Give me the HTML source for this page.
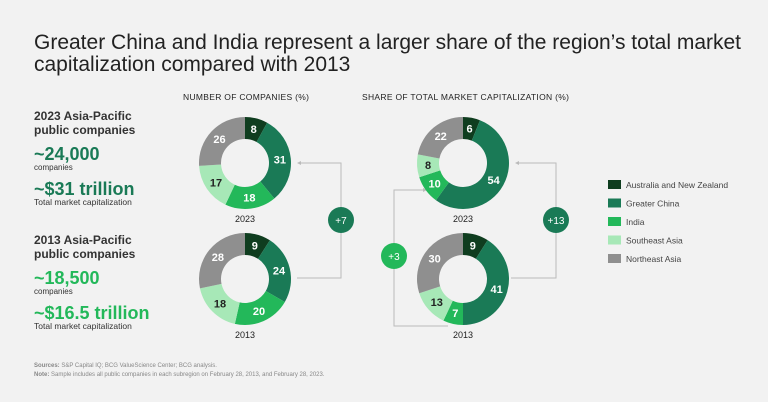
<!DOCTYPE html>
<html><head><meta charset="utf-8"><style>
body{margin:0;background:#f2f2f2;font-family:"Liberation Sans",sans-serif;}
#wrap{position:relative;width:768px;height:402px;overflow:hidden;background:#f2f2f2;}
svg text{font-family:"Liberation Sans",sans-serif;}
</style></head><body>
<div id="wrap">
<svg id="chart" width="768" height="402">
<text x="34" y="49" font-size="21" fill="#222">Greater China and India represent a larger share of the region’s total market</text>
<text x="34" y="71" font-size="21" fill="#222">capitalization compared with 2013</text>
<text x="183" y="100" font-size="8.5" fill="#222" letter-spacing="0.3">NUMBER OF COMPANIES (%)</text>
<text x="362" y="100" font-size="8.5" fill="#222" letter-spacing="0.3">SHARE OF TOTAL MARKET CAPITALIZATION (%)</text>

<g>
<text x="34" y="120" font-size="12" font-weight="bold" fill="#333">2023 Asia-Pacific</text>
<text x="34" y="134" font-size="12" font-weight="bold" fill="#333">public companies</text>
<text x="34" y="160" font-size="18" font-weight="bold" fill="#1a7a56">~24,000</text>
<text x="34" y="170" font-size="8" fill="#333">companies</text>
<text x="34" y="195" font-size="18" font-weight="bold" fill="#1a7a56">~$31 trillion</text>
<text x="34" y="205" font-size="8.5" fill="#333">Total market capitalization</text>
</g>
<g>
<text x="34" y="244" font-size="12" font-weight="bold" fill="#333">2013 Asia-Pacific</text>
<text x="34" y="258" font-size="12" font-weight="bold" fill="#333">public companies</text>
<text x="34" y="284" font-size="18" font-weight="bold" fill="#23b85a">~18,500</text>
<text x="34" y="294" font-size="8" fill="#333">companies</text>
<text x="34" y="319" font-size="18" font-weight="bold" fill="#23b85a">~$16.5 trillion</text>
<text x="34" y="329" font-size="8.5" fill="#333">Total market capitalization</text>
</g>

<g fill="none" stroke="#bbb" stroke-width="1">
<polyline points="300,163 341,163 341,278 297,278"/>
<polyline points="424,190 394,190 394,326 448,326"/>
<polyline points="519,163 556,163 556,278 511,278"/>
</g>
<polygon points="297,163 301,161 301,165" fill="#bbb"/>
<polygon points="427,190 423,188 423,192" fill="#bbb"/>
<polygon points="515,163 519,161 519,165" fill="#bbb"/>

<g><circle cx="341" cy="220" r="13" fill="#1a7a56"/><text x="341" y="224" font-size="10" fill="#fff" text-anchor="middle">+7</text></g>
<g><circle cx="394" cy="256" r="13" fill="#23b85a"/><text x="394" y="260" font-size="10" fill="#fff" text-anchor="middle">+3</text></g>
<g><circle cx="556" cy="220" r="13" fill="#1a7a56"/><text x="556" y="224" font-size="10" fill="#fff" text-anchor="middle">+13</text></g>

<g id="donuts"></g>
<g id="legend"></g>

<text x="34" y="367" font-size="6" fill="#888"><tspan font-weight="bold">Sources:</tspan> S&amp;P Capital IQ; BCG ValueScience Center; BCG analysis.</text>
<text x="34" y="376" font-size="6" fill="#888"><tspan font-weight="bold">Note:</tspan> Sample includes all public companies in each subregion on February 28, 2013, and February 28, 2023.</text>
</svg>
</div>
<script>
const regions = ["Australia and New Zealand","Greater China","India","Southeast Asia","Northeast Asia"];
const colors = ["#0f3d1f","#1a7a56","#23b85a","#a7e8b7","#8f8f8f"];
const textColors = ["#fff","#fff","#fff","#222","#fff"];
const companies2023 = [8,31,18,17,26];
const companies2013 = [9,24,20,18,28];
const marketCap2023 = [6,54,10,8,22];
const marketCap2013 = [9,41,7,13,30];
const yearLabels = ["2023","2013"];

const NS="http://www.w3.org/2000/svg";
const donutG=document.getElementById('donuts');
const R=46, r=24;
function pt(cx,cy,rad,a){return [cx+rad*Math.sin(a), cy-rad*Math.cos(a)];}
function donut(cx,cy,vals,name,year){
  const g=document.createElementNS(NS,'g');
  
  
  const tot=vals.reduce((a,b)=>a+b,0);
  let a0=0;
  vals.forEach((v,i)=>{
    const a1=a0+v/tot*2*Math.PI;
    const [x1,y1]=pt(cx,cy,R,a0),[x2,y2]=pt(cx,cy,R,a1),[x3,y3]=pt(cx,cy,r,a1),[x4,y4]=pt(cx,cy,r,a0);
    const lg=(a1-a0)>Math.PI?1:0;
    const p=document.createElementNS(NS,'path');
    p.setAttribute('d',`M${x1},${y1}A${R},${R} 0 ${lg} 1 ${x2},${y2}L${x3},${y3}A${r},${r} 0 ${lg} 0 ${x4},${y4}Z`);
    p.setAttribute('fill',colors[i]);
    
    
    g.appendChild(p);
    const [lx,ly]=pt(cx,cy,(R+r)/2,(a0+a1)/2);
    const t=document.createElementNS(NS,'text');
    t.setAttribute('x',lx);t.setAttribute('y',ly+4);
    t.setAttribute('text-anchor','middle');t.setAttribute('font-size','11');t.setAttribute('font-weight','bold');
    t.setAttribute('fill',textColors[i]);
    t.textContent=v;
    
    
    g.appendChild(t);
    a0=a1;
  });
  const yt=document.createElementNS(NS,'text');
  yt.setAttribute('x',cx);yt.setAttribute('y',cy+59);
  yt.setAttribute('text-anchor','middle');yt.setAttribute('font-size','9');yt.setAttribute('fill','#222');
  yt.textContent=year;
  
  
  g.appendChild(yt);
  donutG.appendChild(g);
}
donut(245,163,companies2023,'companies-2023-donut',yearLabels[0]);
donut(245,279,companies2013,'companies-2013-donut',yearLabels[1]);
donut(463,163,marketCap2023,'market-cap-2023-donut',yearLabels[0]);
donut(463,279,marketCap2013,'market-cap-2013-donut',yearLabels[1]);

const lg=document.getElementById('legend');
regions.forEach((n,i)=>{
  const g=document.createElementNS(NS,'g');
  
  
  const y=180+i*18.5;
  const rc=document.createElementNS(NS,'rect');
  rc.setAttribute('x',608);rc.setAttribute('y',y);rc.setAttribute('width',13);rc.setAttribute('height',9);rc.setAttribute('fill',colors[i]);
  g.appendChild(rc);
  const t=document.createElementNS(NS,'text');
  t.setAttribute('x',626);t.setAttribute('y',y+8);t.setAttribute('font-size','8.5');t.setAttribute('fill','#444');
  t.textContent=n;
  g.appendChild(t);
  lg.appendChild(g);
});
</script>
</body></html>
